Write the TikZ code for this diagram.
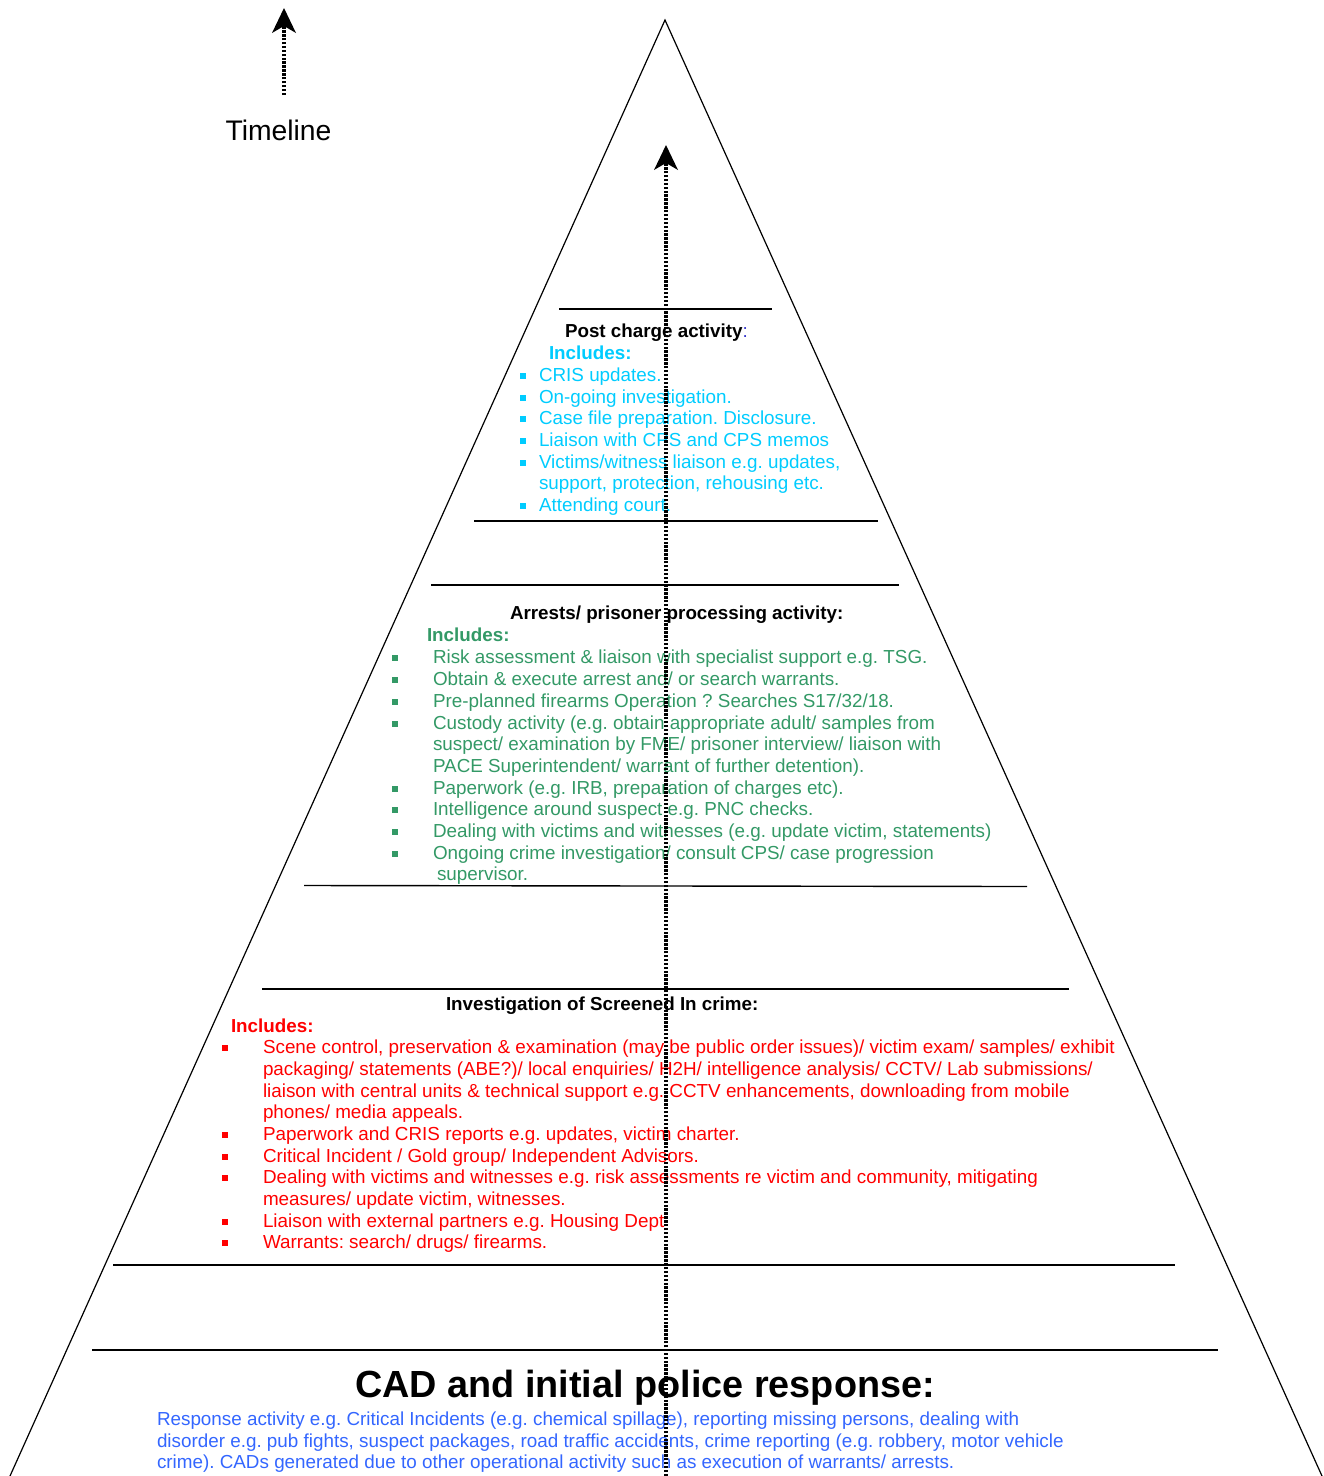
\documentclass[tikz,border=0pt]{standalone}
\usepackage{fontspec}
\setmainfont{Liberation Sans}
\usetikzlibrary{arrows.meta}
\definecolor{pcCyan}{RGB}{0,204,255}
\definecolor{arGreen}{RGB}{51,153,102}
\definecolor{invRed}{RGB}{255,0,0}
\definecolor{cadBlue}{RGB}{51,102,255}
\definecolor{colonBlue}{RGB}{51,51,204}
\frenchspacing
\begin{document}
\begin{tikzpicture}[x=1pt,y=-1pt,
  line/.style={anchor=base west,inner sep=0pt,outer sep=0pt,font=\fontsize{18.85}{21.7}\selectfont},
  head/.style={line,font=\fontsize{18.8}{21.7}\selectfont\bfseries},
  bul/.style={rectangle,inner sep=0pt,minimum width=6pt,minimum height=6pt,draw=none},
  divider/.style={line width=1.4pt,black},
  side/.style={line width=1.2pt,black},
  timearrow/.style={line width=3.2pt,dash pattern=on 2.4pt off 1.5pt,
     -{Stealth[length=25pt,width=24pt,inset=7pt,line width=0pt]}},
]
\useasboundingbox (0,0) rectangle (1324,1476);

% pyramid sides
\coordinate (apex) at (665,20);
\coordinate (bl) at (10,1476);
\coordinate (br) at (1322,1476);
\draw[side] (bl) -- (apex) -- (br);

% dividers
\draw[divider] (559,309) -- (772,309);
\draw[divider] (474,521) -- (878,521);
\draw[divider] (431,585) -- (899,585);
\draw[divider] (304,885.5) -- (1027,886.5);
\draw[divider] (262,989) -- (1069,989);
\draw[divider] (113,1265) -- (1175,1265);
\draw[divider] (92,1350) -- (1218,1350);

% timeline
\node[anchor=base,inner sep=0pt,font=\fontsize{28.3}{32}\selectfont] (tl) at (278.5,140) {Timeline};
\coordinate (tlS) at (284,95);
\coordinate (tlE) at (284,8);
\draw[timearrow] (tlS) -- (tlE);

% Post charge
\node[head] (pch) at (565,337) {Post charge activity\textcolor{colonBlue}{\mdseries:}};
\node[head,text=pcCyan] (pci) at (549,359) {Includes:};
\begin{scope}[every node/.append style={text=pcCyan}]
\node[line] (pc1) at (539,381) {CRIS updates.};
\node[line] (pc2) at (539,403) {On-going investigation.};
\node[line] (pc3) at (539,424) {Case file preparation. Disclosure.};
\node[line] (pc4) at (539,446) {Liaison with CPS and CPS memos};
\node[line] (pc5) at (539,468) {Victims/witness liaison e.g. updates,};
\node[line] (pc6) at (539,489) {support, protection, rehousing etc.};
\node[line] (pc7) at (539,511) {Attending court.};
\end{scope}
\foreach \yy/\nm in {381/1,403/2,424/3,446/4,468/5,511/7}
  \node[bul,fill=pcCyan] (pcb\nm) at (522.5,\yy-5) {};

% Arrests
\node[head] (arh) at (510,619) {Arrests/ prisoner processing activity:};
\node[head,text=arGreen] (ari) at (427,641) {Includes:};
\begin{scope}[every node/.append style={text=arGreen}]
\node[line] (a1) at (433,663) {Risk assessment \& liaison with specialist support e.g. TSG.};
\node[line] (a2) at (433,685) {Obtain \& execute arrest and/ or search warrants.};
\node[line] (a3) at (433,707) {Pre-planned firearms Operation ? Searches S17/32/18.};
\node[line] (a4) at (433,729) {Custody activity (e.g. obtain appropriate adult/ samples from};
\node[line] (a5) at (433,750) {suspect/ examination by FME/ prisoner interview/ liaison with};
\node[line] (a6) at (433,772) {PACE Superintendent/ warrant of further detention).};
\node[line] (a7) at (433,794) {Paperwork (e.g. IRB, preparation of charges etc).};
\node[line] (a8) at (433,815) {Intelligence around suspect e.g. PNC checks.};
\node[line] (a9) at (433,837) {Dealing with victims and witnesses (e.g. update victim, statements)};
\node[line] (a10) at (433,859) {Ongoing crime investigation/ consult CPS/ case progression};
\node[line] (a11) at (437,880) {supervisor.};
\end{scope}
\foreach \yy/\nm in {663/1,685/2,707/3,729/4,794/7,815/8,837/9,859/10}
  \node[bul,fill=arGreen] (ab\nm) at (395,\yy-5) {};

% Investigation
\node[head] (ivh) at (446,1010) {Investigation of Screened In crime:};
\node[head,text=invRed] (ivi) at (231,1032) {Includes:};
\begin{scope}[every node/.append style={text=invRed}]
\node[line] (i1) at (263,1053) {Scene control, preservation \& examination (may be public order issues)/ victim exam/ samples/ exhibit};
\node[line] (i2) at (263,1075) {packaging/ statements (ABE?)/ local enquiries/ H2H/ intelligence analysis/ CCTV/ Lab submissions/};
\node[line] (i3) at (263,1097) {liaison with central units \& technical support e.g. CCTV enhancements, downloading from mobile};
\node[line] (i4) at (263,1118) {phones/ media appeals.};
\node[line] (i5) at (263,1140) {Paperwork and CRIS reports e.g. updates, victim charter.};
\node[line] (i6) at (263,1162) {Critical Incident / Gold group/ Independent Advisors.};
\node[line] (i7) at (263,1183) {Dealing with victims and witnesses e.g. risk assessments re victim and community, mitigating};
\node[line] (i8) at (263,1205) {measures/ update victim, witnesses.};
\node[line] (i9) at (263,1227) {Liaison with external partners e.g. Housing Dept};
\node[line] (i10) at (263,1248) {Warrants: search/ drugs/ firearms.};
\end{scope}
\foreach \yy/\nm in {1053/1,1140/5,1162/6,1183/7,1227/9,1248/10}
  \node[bul,fill=invRed] (ib\nm) at (225,\yy-5) {};

% CAD
\node[anchor=base west,inner sep=0pt,font=\fontsize{37.8}{42}\selectfont\bfseries] (cadh) at (355,1397) {CAD and initial police response:};
\begin{scope}[every node/.append style={text=cadBlue}]
\node[line] (c1) at (157,1425) {Response activity e.g. Critical Incidents (e.g. chemical spillage), reporting missing persons, dealing with};
\node[line] (c2) at (157,1447) {disorder e.g. pub fights, suspect packages, road traffic accidents, crime reporting (e.g. robbery, motor vehicle};
\node[line] (c3) at (157,1468) {crime). CADs generated due to other operational activity such as execution of warrants/ arrests.};
\end{scope}

% central timeline arrow
\coordinate (ctS) at (666,1476);
\coordinate (ctE) at (666,145);
\draw[timearrow] (ctS) -- (ctE);
\end{tikzpicture}
\end{document}
